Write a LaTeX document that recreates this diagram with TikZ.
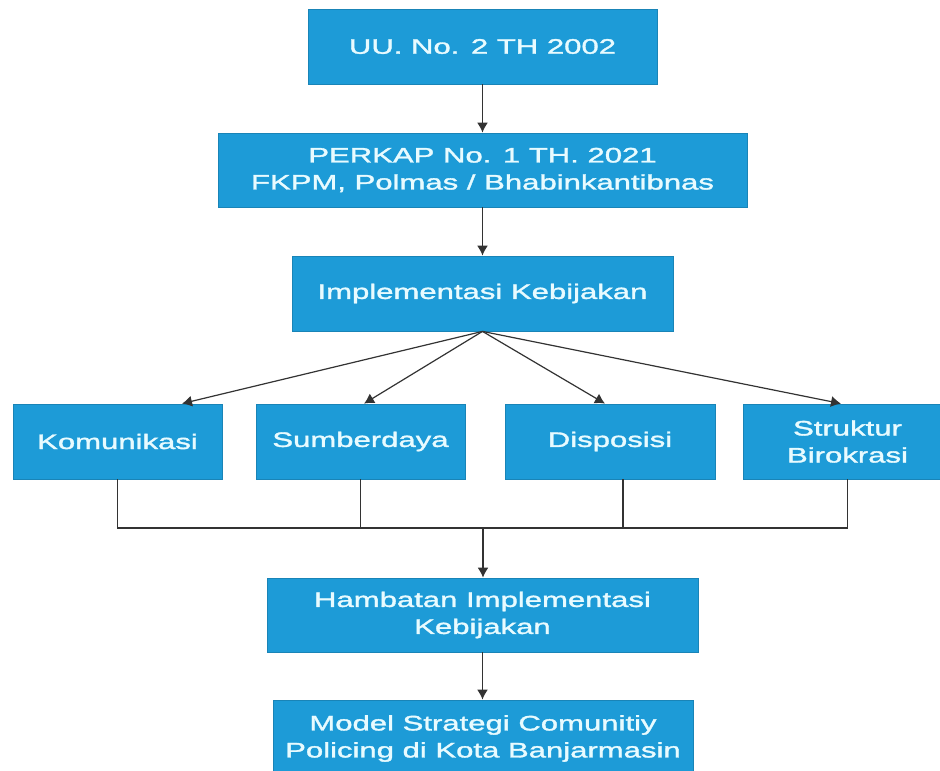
\documentclass[tikz,border=0pt]{standalone}
\usepackage{fontspec}
\setmainfont[FakeStretch=1.48,FakeBold=1.6]{Liberation Sans}
\usetikzlibrary{arrows.meta}

\definecolor{boxblue}{HTML}{1D9BD7}
\definecolor{boxtext}{HTML}{E8FBFF}
\definecolor{linegray}{HTML}{333333}

\tikzset{
    box/.style={draw=boxblue!85!black, line width=0.8pt, fill=boxblue, text=boxtext,
        align=center, inner sep=0pt, minimum height=75,
        font=\fontsize{21}{27}\selectfont},
    arr/.style={-{Latex[length=10pt,width=11pt]}, draw=linegray, line width=1.5pt},
    wire/.style={draw=linegray, line width=1.5pt}
}

\begin{document}
\begin{tikzpicture}[x=1pt,y=-1pt]

    \useasboundingbox (0,0) rectangle (940,771);
    \fill[white] (0,0) rectangle (940,771);
    \clip (0,0) rectangle (940,771);

    \node[box, minimum width=349] (uu) at (482.5,46.5) {UU. No. 2 TH 2002};

    \node[box, minimum width=529, minimum height=74] (perkap) at (482.5,170) {
        PERKAP No. 1 TH. 2021\\
        FKPM, Polmas / Bhabinkantibnas
    };

    \node[box, minimum width=381] (implementasi) at (482.5,293.5) {Implementasi Kebijakan};

    \node[box, minimum width=209] (komunikasi) at (117.5,441.5) {Komunikasi};
    \node[box, minimum width=209] (sumberdaya) at (360.5,441.5) {Sumberdaya};
    \node[box, minimum width=210] (disposisi) at (610,441.5) {Disposisi};
    \node[box, minimum width=209] (struktur) at (847.5,441.5) {
        Struktur\\
        Birokrasi
    };

    \node[box, minimum width=431, minimum height=74] (hambatan) at (482.5,615) {
        Hambatan Implementasi\\
        Kebijakan
    };

    \node[box, minimum width=420, minimum height=77] (model) at (483,738.5) {
        Model Strategi Comunitiy\\
        Policing di Kota Banjarmasin
    };

    \draw[arr] (uu) to (perkap);
    \draw[arr] (perkap) to (implementasi);

    \draw[arr, line width=1.2pt] (implementasi.south) to ([xshift=64.5]komunikasi.north);
    \draw[arr, line width=1.2pt] (implementasi.south) to ([xshift=3.5]sumberdaya.north);
    \draw[arr, line width=1.2pt] (implementasi.south) to ([xshift=-5]disposisi.north);
    \draw[arr, line width=1.2pt] (implementasi.south) to ([xshift=-6.5]struktur.north);

    \coordinate (bus) at (483,528);
    \coordinate (disposisi foot) at ([xshift=13]disposisi.south);

    \draw[wire] (komunikasi.south) -- (komunikasi.south |- bus) -- (struktur.south |- bus) -- (struktur.south);
    \draw[wire] (sumberdaya.south) -- (sumberdaya.south |- bus);
    \draw[wire] (disposisi foot) -- (disposisi foot |- bus);

    \draw[arr] (bus) to (bus |- hambatan.north);
    \draw[arr] (hambatan.south) to (hambatan.south |- model.north);

\end{tikzpicture}
\end{document}
